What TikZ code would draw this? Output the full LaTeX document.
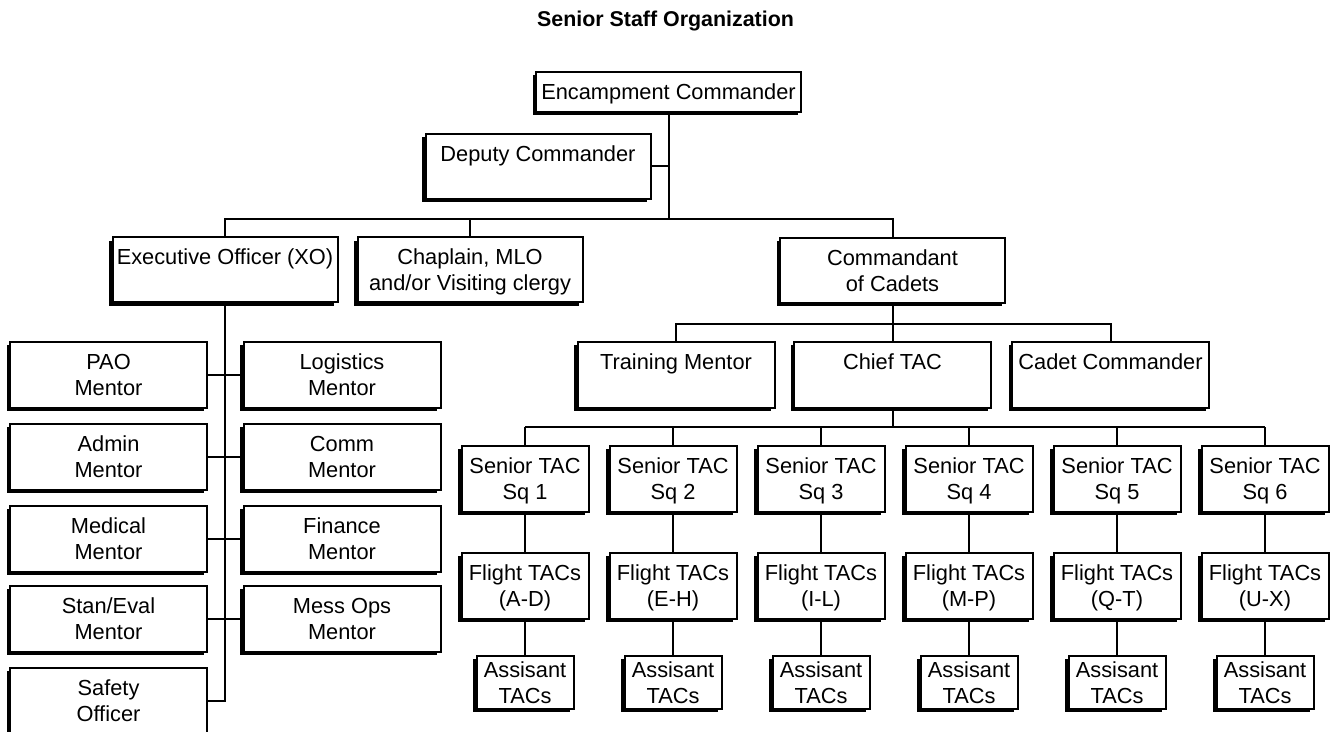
\documentclass[tikz,border=0pt]{standalone}
\usepackage{fontspec}
\setmainfont{Liberation Sans}
\usetikzlibrary{shadows}
\tikzstyle{chart} = [x = 0.5pt, y = -0.5pt]
\tikzstyle{orgBox} = [draw, fill=white, line width=1pt, inner sep=0pt, align=center, text depth=0pt, font=\fontsize{10.9}{13}\selectfont, general shadow={fill=black, shadow xshift=-1.6pt, shadow yshift=-1.6pt}]
\tikzstyle{wideBox} = [orgBox, minimum width=112.5pt, minimum height=32.5pt]
\tikzstyle{staffBox} = [orgBox, minimum width=98.5pt, minimum height=33pt]
\tikzstyle{tacBox} = [orgBox, minimum width=63.5pt, minimum height=33pt]
\tikzstyle{assistBox} = [orgBox, minimum width=48.5pt, minimum height=26.5pt]
\tikzstyle{connector} = [line width=1pt]
\tikzstyle{titleText} = [font=\bfseries\fontsize{10.7}{13}\selectfont]
\newcommand{\mentorBox}[4]{\node [staffBox] (#1) at (#2,#3) {#4\\Mentor};}

\begin{document}
\begin{tikzpicture}[chart]
  \useasboundingbox (0,0) rectangle (1332,732);
  \node [titleText] (title) at (665.5,21) {Senior Staff Organization};

  % command staff
  \node [orgBox, minimum width=132.5pt, minimum height=20pt] (encampment) at (668.5,92) {Encampment Commander};
  \node [wideBox] (deputy) at (538,166.5) {Deputy Commander\\~};
  \node [wideBox] (xo) at (225,270) {Executive Officer (XO)\\~};
  \node [wideBox] (chaplain) at (470,270) {Chaplain, MLO\\and/or Visiting clergy};
  \node [wideBox] (commandant) at (892.5,270.5) {Commandant\\of Cadets};
  \coordinate (staffBus) at (668.5,219);
  \draw [connector] (encampment.south) -- (staffBus);
  \draw [connector] (deputy.east) -- (deputy.east -| staffBus);
  \draw [connector] (xo.north) |- (staffBus) -| (commandant.north);
  \draw [connector] (chaplain.north) -- (chaplain.north |- staffBus);

  % cadet side
  \node [staffBox] (training) at (676,375) {Training Mentor\\~};
  \node [staffBox] (chiefTac) at (892.5,375) {Chief TAC\\~};
  \node [staffBox] (cadetCommander) at (1110.5,375) {Cadet Commander\\~};
  \coordinate (cadetBus) at (892.5,324);
  \draw [connector] (commandant.south) -- (chiefTac.north);
  \draw [connector] (training.north) |- (cadetBus) -| (cadetCommander.north);

  % squadrons
  \coordinate (tacBus) at (892.5,427);
  \draw [connector] (chiefTac.south) -- (tacBus);
  \foreach \sq/\flights in {1/A-D, 2/E-H, 3/I-L, 4/M-P, 5/Q-T, 6/U-X} {
    \pgfmathsetmacro{\column}{525 + 148 * (\sq - 1)}
    \node [tacBox] (senior\sq) at (\column,479) {Senior TAC\\Sq \sq};
    \node [tacBox] (flight\sq) at (\column,585.5) {Flight TACs\\(\flights)};
    \node [assistBox] (assistant\sq) at (\column,682.5) {Assisant\\TACs};
    \draw [connector] (senior\sq.north) -- (senior\sq.north |- tacBus);
    \draw [connector] (senior\sq) -- (flight\sq);
    \draw [connector] (flight\sq) -- (assistant\sq);
  }
  \draw [connector] (senior1.north |- tacBus) -- (senior6.north |- tacBus);

  % executive staff
  \mentorBox{pao}{108.5}{375}{PAO}
  \mentorBox{logistics}{342}{375}{Logistics}
  \mentorBox{admin}{108.5}{457}{Admin}
  \mentorBox{comm}{342}{457}{Comm}
  \mentorBox{medical}{108.5}{538.5}{Medical}
  \mentorBox{finance}{342}{538.5}{Finance}
  \mentorBox{stanEval}{108.5}{619}{Stan/Eval}
  \mentorBox{messOps}{342}{619}{Mess Ops}
  \node [staffBox] (safety) at (108.5,701) {Safety\\Officer};
  \draw [connector] (xo.south) |- (safety.east);
  \foreach \leftBox/\rightBox in {pao/logistics, admin/comm, medical/finance, stanEval/messOps}
    \draw [connector] (\leftBox.east) -- (\rightBox.west);
\end{tikzpicture}
\end{document}
